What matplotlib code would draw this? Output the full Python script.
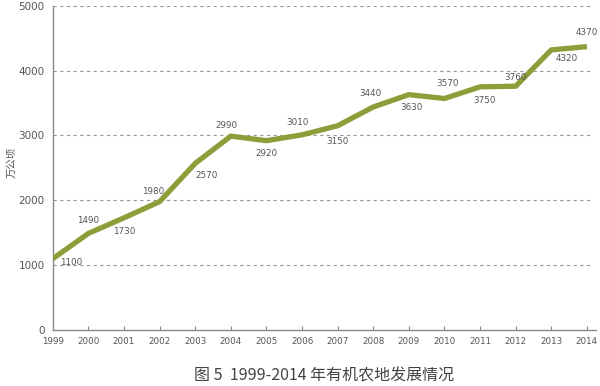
import matplotlib
matplotlib.use("Agg")
import matplotlib.pyplot as plt

plt.rcParams['font.family'] = ['Noto Sans CJK SC', 'DejaVu Sans']

# 有机农地面积（万公顷）
years = [1999, 2000, 2001, 2002, 2003, 2004, 2005, 2006,
         2007, 2008, 2009, 2010, 2011, 2012, 2013, 2014]
area = [1100, 1490, 1730, 1980, 2570, 2990, 2920, 3010,
        3150, 3440, 3630, 3570, 3750, 3760, 4320, 4370]
yticks = [0, 1000, 2000, 3000, 4000, 5000]

TITLE = "图 5  1999-2014 年有机农地发展情况"
YLABEL = "万公顷"

LINE = "#8c9e3a"
GREY = "#555555"

# label offsets in points (dx, dy)
offsets = [(13, -3), (0, 9), (0, -10), (-5, 7), (8, -9), (-3, 8),
           (0, -9), (-3, 9), (0, -11), (-2, 10), (2, -9), (2, 11),
           (3, -10), (0, 6), (11, -6), (0, 10)]

fig = plt.figure(figsize=(6, 3.86), dpi=100)
ax = fig.add_axes([0.088, 0.145, 0.905, 0.84])

ax.plot(years, area, color=LINE, lw=3.8, solid_capstyle="butt",
        solid_joinstyle="round", zorder=3)

for x, y, (dx, dy) in zip(years, area, offsets):
    ax.annotate(str(y), (x, y), xytext=(dx, dy), textcoords="offset points",
                ha="center", va="center", fontsize=6.3, color=GREY,
                family="DejaVu Sans")

ax.set_xlim(1999, 2014.25)
ax.set_ylim(0, 5000)
ax.set_xticks(years)
ax.set_xticklabels([str(y) for y in years], fontsize=6.3, color=GREY,
                   family="DejaVu Sans")
ax.set_yticks(yticks)
ax.set_yticklabels([str(v) for v in yticks], fontsize=7.5, color=GREY,
                   family="DejaVu Sans")
ax.tick_params(axis="x", direction="in", length=3, color="#888888", pad=5)
ax.tick_params(axis="y", length=0, pad=6)

for v in yticks[1:]:
    ax.axhline(v, xmin=0, xmax=0.994, color="#999999", lw=0.8,
               ls=(0, (3, 3)), zorder=1)

for s in ("top", "right"):
    ax.spines[s].set_visible(False)
for s in ("left", "bottom"):
    ax.spines[s].set_color("#888888")
    ax.spines[s].set_linewidth(1.0)

fig.text(0.02, 0.578, YLABEL, rotation=90, ha="center", va="center",
         fontsize=7.5, color=GREY)
fig.text(0.54, 0.027, TITLE, ha="center", va="center", fontsize=11.5,
         color="#444444")

fig.savefig("out.png", dpi=100)
